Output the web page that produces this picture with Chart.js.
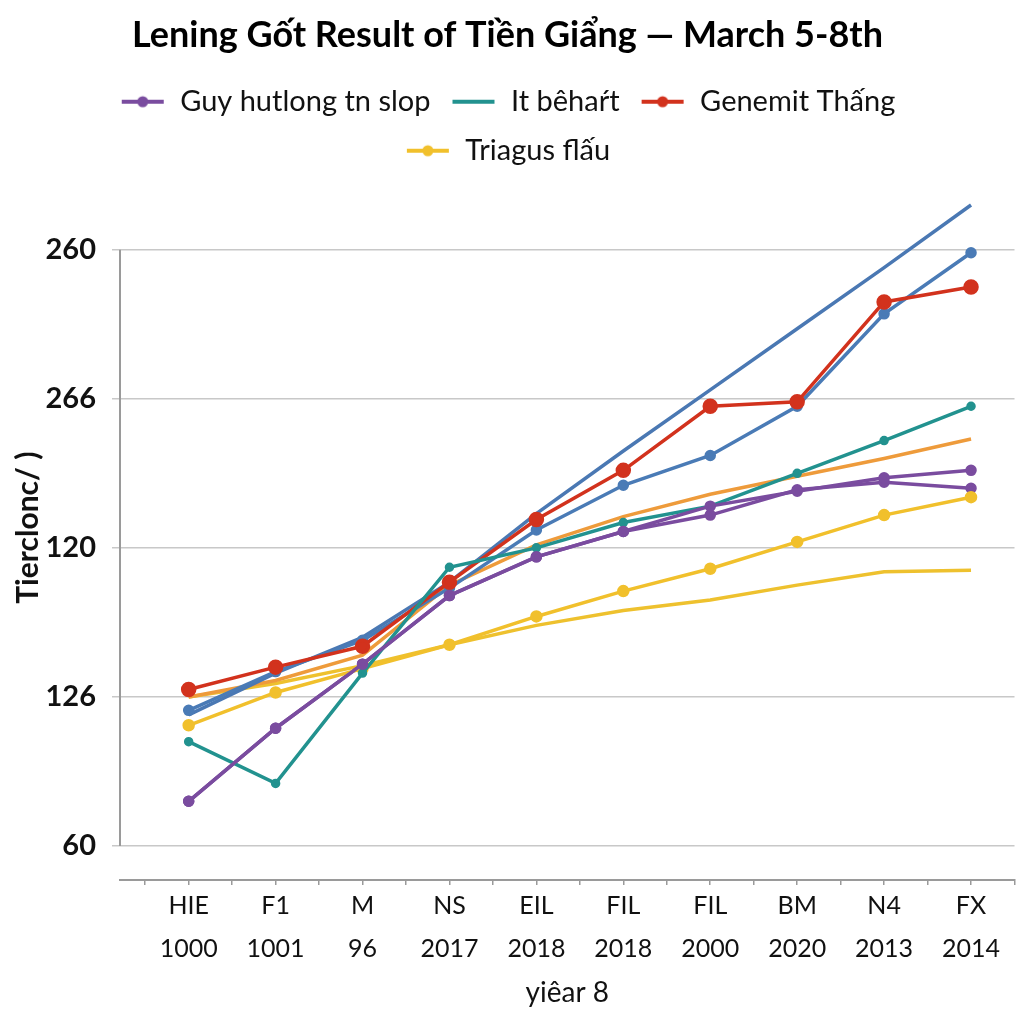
<!DOCTYPE html>
<html>
<head>
<meta charset="utf-8">
<script src="https://cdn.jsdelivr.net/npm/chart.js@4.4.1/dist/chart.umd.min.js"></script>
<style>
  html, body { margin: 0; padding: 0; background: #fff; }
  #wrap { width: 1024px; height: 1024px; }
</style>
</head>
<body>
<div id="wrap"><canvas id="lineChart"></canvas></div>
<script>
// Categories (two-line tick labels)
const xTopLabels = ['HIE', 'F1', 'M', 'NS', 'EIL', 'FIL', 'FIL', 'BM', 'N4', 'FX'];
const xBottomLabels = ['1000', '1001', '96', '2017', '2018', '2018', '2000', '2020', '2013', '2014'];

// Y ticks: positions on the scale and the (odd) labels printed at them
const yTickValues = [0, 1, 2, 3, 4];
const yTickLabels = ['60', '126', '120', '266', '260'];

// Series values, read in grid units (0 = "60" line, 4 = "260" line)
const guyValues = [0.30, 0.79, 1.22, 1.68, 1.94, 2.11, 2.28, 2.38, 2.47, 2.52];
const guyValues2 = [0.30, 0.79, 1.22, 1.68, 1.94, 2.11, 2.22, 2.39, 2.44, 2.40];
const behartValues = [0.70, 0.42, 1.16, 1.87, 2.00, 2.17, 2.28, 2.50, 2.72, 2.95];
const genemitValues = [1.05, 1.20, 1.34, 1.77, 2.19, 2.52, 2.95, 2.98, 3.65, 3.75];
const triagusValues = [0.81, 1.03, 1.19, 1.35, 1.54, 1.71, 1.86, 2.04, 2.22, 2.34];
const blueTrendValues = [0.88, 1.16, 1.40, 1.77, 2.23, 2.65, 3.06, 3.47, 3.88, 4.30];
const blueValues = [0.91, 1.17, 1.38, 1.73, 2.12, 2.42, 2.62, 2.95, 3.57, 3.98];
const orangeValues = [1.00, 1.11, 1.28, 1.75, 2.02, 2.21, 2.36, 2.48, 2.60, 2.73];
const yellowValues = [1.00, 1.09, 1.21, 1.35, 1.48, 1.58, 1.65, 1.75, 1.84, 1.85];

const legendNames = ['Guy hutlong tn slop', 'It bêhaŕt', 'Genemit Thấng', 'Triagus flấu'];

const FONT = 'Lato, "Open Sans", sans-serif';

const toPoints = (values) => values.map((v, i) => ({ x: i, y: v }));

// small legend glyph: a line with an optional dot in the middle
const legendGlyph = (color, dot) => {
    const c = document.createElement('canvas');
    c.width = 46;
    c.height = 14;
    const g = c.getContext('2d');
    g.strokeStyle = color;
    g.lineWidth = 4;
    g.beginPath();
    g.moveTo(2, 7);
    g.lineTo(44, 7);
    g.stroke();
    if (dot) {
        g.fillStyle = color;
        g.beginPath();
        g.arc(23, 7, 5.5, 0, Math.PI * 2);
        g.fill();
    }
    return c;
};

const makeSeries = (label, values, color, radius) => ({
    label: label,
    data: toPoints(values),
    borderColor: color,
    backgroundColor: color,
    borderWidth: 3.5,
    pointRadius: radius,
    pointHoverRadius: radius,
    pointStyle: 'circle',
    tension: 0
});

const datasets = [
    makeSeries(legendNames[0], guyValues, '#7a4c9f', 4),
    makeSeries(legendNames[1], behartValues, '#22928f', 3),
    makeSeries(legendNames[2], genemitValues, '#d2321d', 6),
    makeSeries(legendNames[3], triagusValues, '#f1c02c', 4.5),
    makeSeries('', guyValues2, '#7a4c9f', 4),
    makeSeries('', blueValues, '#4a7bb6', 4),
    makeSeries('', blueTrendValues, '#4a78b3', 0),
    makeSeries('', orangeValues, '#ee9b3b', 0),
    makeSeries('', yellowValues, '#eec12e', 0)
];

const glyphs = {};
datasets.slice(0, 4).forEach((ds, i) => {
    glyphs[ds.label] = legendGlyph(ds.borderColor, i !== 1);
});

// draws the vertical y-axis line only between the lowest and highest grid line
const yAxisLine = {
    id: 'yAxisLine',
    beforeDatasetsDraw(chart) {
        const { ctx, chartArea, scales } = chart;
        const top = scales.y.getPixelForValue(yTickValues[yTickValues.length - 1]);
        const bottom = scales.y.getPixelForValue(yTickValues[0]);
        ctx.save();
        ctx.strokeStyle = '#9a9a9a';
        ctx.lineWidth = 2;
        ctx.beginPath();
        ctx.moveTo(chartArea.left, top);
        ctx.lineTo(chartArea.left, bottom);
        ctx.stroke();
        ctx.restore();
    }
};

new Chart(document.getElementById('lineChart').getContext('2d'), {
    type: 'line',
    data: { datasets: datasets },
    plugins: [yAxisLine],
    options: {
        responsive: true,
        maintainAspectRatio: false,
        animation: false,
        layout: { padding: { left: 0, right: 9, top: 0, bottom: 8 } },
        plugins: {
            title: {
                display: true,
                text: 'Lening Gốt Result of Tiền Giẩng — March 5-8th',
                color: '#000',
                font: { family: FONT, size: 36, weight: 'bold' },
                padding: { top: 14, bottom: 10 }
            },
            legend: {
                position: 'top',
                labels: {
                    color: '#111',
                    font: { family: FONT, size: 29 },
                    usePointStyle: true,
                    pointStyleWidth: 46,
                    padding: 20,
                    generateLabels: (chart) => chart.data.datasets
                        .filter(ds => ds.label !== '')
                        .map((ds, i) => ({
                            text: ds.label,
                            fontColor: '#111',
                            pointStyle: glyphs[ds.label],
                            strokeStyle: ds.borderColor,
                            fillStyle: ds.borderColor,
                            lineWidth: 0,
                            datasetIndex: i
                        }))
                }
            },
            tooltip: { enabled: false }
        },
        scales: {
            x: {
                type: 'linear',
                min: -0.79,
                max: 9.5,
                afterBuildTicks: (scale) => {
                    const ticks = [];
                    for (let i = 0; i < xTopLabels.length; i++) {
                        ticks.push({ value: i - 0.5 });
                        ticks.push({ value: i });
                    }
                    ticks.push({ value: xTopLabels.length - 0.5 });
                    scale.ticks = ticks;
                },
                afterFit: (scale) => { scale.height = 136; },
                ticks: {
                    autoSkip: false,
                    maxRotation: 0,
                    padding: 0,
                    color: '#111',
                    font: { family: FONT, size: 25, lineHeight: 1.7 },
                    callback: (v) => Number.isInteger(v) ? [xTopLabels[v], xBottomLabels[v]] : ''
                },
                grid: {
                    display: true,
                    drawOnChartArea: false,
                    drawTicks: true,
                    tickLength: 5,
                    color: '#9a9a9a',
                    lineWidth: 1.5
                },
                border: { display: true, color: '#9a9a9a', width: 2 },
                title: {
                    display: true,
                    text: 'yiêar 8',
                    color: '#111',
                    font: { family: FONT, size: 28 },
                    padding: { top: 0, bottom: 6 }
                }
            },
            y: {
                type: 'linear',
                min: -0.228,
                max: 4.5,
                afterBuildTicks: (scale) => {
                    scale.ticks = yTickValues.map(v => ({ value: v }));
                },
                afterFit: (scale) => { scale.width = 120; },
                ticks: {
                    padding: 16,
                    color: '#111',
                    font: { family: FONT, size: 29, weight: 'bold' },
                    callback: (v, i) => yTickLabels[i]
                },
                grid: {
                    color: '#c8c8c8',
                    lineWidth: 1.5,
                    drawTicks: true,
                    tickLength: 8
                },
                border: { display: false },
                title: {
                    display: true,
                    text: 'Tierclonc/ )',
                    color: '#111',
                    font: { family: FONT, size: 30, weight: 'bold' },
                    padding: { top: 10, bottom: 0 }
                }
            }
        }
    }
});
</script>
</body>
</html>
